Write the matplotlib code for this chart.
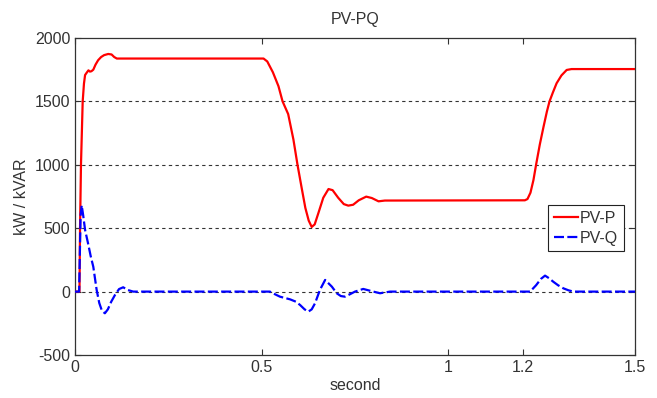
import matplotlib.pyplot as plt

plt.rcParams['font.family'] = ['Liberation Sans', 'DejaVu Sans']
plt.rcParams['axes.unicode_minus'] = False

# PV-P (kW)
t_p = [0, 0.012, 0.0135, 0.016, 0.0206, 0.024, 0.027, 0.031, 0.036, 0.040, 0.044, 0.049,
       0.055, 0.062, 0.070, 0.078, 0.089, 0.098, 0.105, 0.112, 0.505, 0.515, 0.530,
       0.545, 0.556, 0.571, 0.585, 0.596, 0.607, 0.617, 0.626, 0.634, 0.642, 0.652,
       0.665, 0.679, 0.690, 0.705, 0.720, 0.732, 0.745, 0.760, 0.780, 0.795, 0.813,
       0.830, 1.205, 1.212, 1.220, 1.228, 1.235, 1.245, 1.255, 1.264, 1.271, 1.280,
       1.290, 1.303, 1.317, 1.330, 1.5]
pv_p = [0, 0, 500, 1000, 1500, 1640, 1708, 1725, 1745, 1735, 1738, 1750,
        1790, 1825, 1850, 1865, 1874, 1870, 1850, 1838, 1838, 1815, 1730,
        1620, 1500, 1400, 1200, 1000, 820, 660, 560, 510, 530, 620,
        740, 809, 800, 740, 690, 678, 685, 720, 749, 738, 712,
        718, 720, 730, 780, 880, 1000, 1160, 1300, 1420, 1500, 1570,
        1643, 1705, 1748, 1755, 1755]

# PV-Q (kVAR)
t_q = [0, 0.011, 0.013, 0.015, 0.018, 0.022, 0.027, 0.035, 0.042, 0.049, 0.058,
       0.065, 0.072, 0.080, 0.088, 0.097, 0.107, 0.118, 0.129, 0.142, 0.156,
       0.522, 0.535, 0.549, 0.576, 0.592, 0.603, 0.615, 0.625, 0.634, 0.643, 0.656,
       0.670, 0.688, 0.701, 0.712, 0.723, 0.737, 0.750, 0.772, 0.799, 0.817, 0.844,
       1.219, 1.235, 1.248, 1.259, 1.270, 1.281, 1.294, 1.308, 1.322, 1.335, 1.5]
pv_q = [0, 0, 300, 600, 680, 600, 486, 380, 280, 196, 13,
        -90, -150, -171, -140, -80, -27, 20, 34, 12, 0,
        0, -20, -40, -61, -80, -106, -140, -158, -140, -92, 13,
        92, 39, -13, -35, -40, -20, 0, 21, 0, -13, 0,
        0, 50, 100, 126, 105, 78, 50, 26, 10, 0, 0]

x_ticks = [0, 0.5, 1, 1.2, 1.5]
y_ticks = [-500, 0, 500, 1000, 1500, 2000]

text_color = '#333333'

fig = plt.figure(figsize=(6.57, 3.98), dpi=100)
ax = fig.add_axes([75 / 657, 1 - 355 / 398, 560 / 657, 317 / 398])

for y in [0, 500, 1000, 1500]:
    ax.axhline(y, color='#333333', lw=0.8, linestyle=(0, (3, 3)), zorder=1)

ax.plot(t_p, pv_p, color='#ff0000', lw=1.6, label='PV-P', zorder=3)
ax.plot(t_q, pv_q, color='#0000ff', lw=1.6, linestyle=(0, (4.5, 1.5)), label='PV-Q', zorder=3)

ax.set_xlim(0, 1.5)
ax.set_ylim(-500, 2000)
ax.set_xticks(x_ticks)
ax.set_xticklabels(['0', '0.5', '1', '1.2', '1.5'])
ax.set_yticks(y_ticks)

ax.tick_params(direction='in', top=True, right=True, length=4, width=0.8,
               colors='#333333', labelcolor=text_color, labelsize=11.5)
for s in ax.spines.values():
    s.set_color('#333333')
    s.set_linewidth(0.9)

ax.set_title('PV-PQ', fontsize=11.5, color=text_color, pad=10)
ax.set_xlabel('second', fontsize=11.5, color=text_color, labelpad=2)
ax.set_ylabel('kW / kVAR', fontsize=11.5, color=text_color, labelpad=4)

leg = ax.legend(loc='upper right', bbox_to_anchor=(0.98, 0.472), fontsize=11.5,
                frameon=True, fancybox=False, edgecolor='#222222', framealpha=1,
                borderpad=0.35, handlelength=1.55, handletextpad=0.1, labelspacing=0.3,
                borderaxespad=0)
leg.get_frame().set_linewidth(0.8)
for txt in leg.get_texts():
    txt.set_color(text_color)

fig.savefig('out.png', dpi=100)
